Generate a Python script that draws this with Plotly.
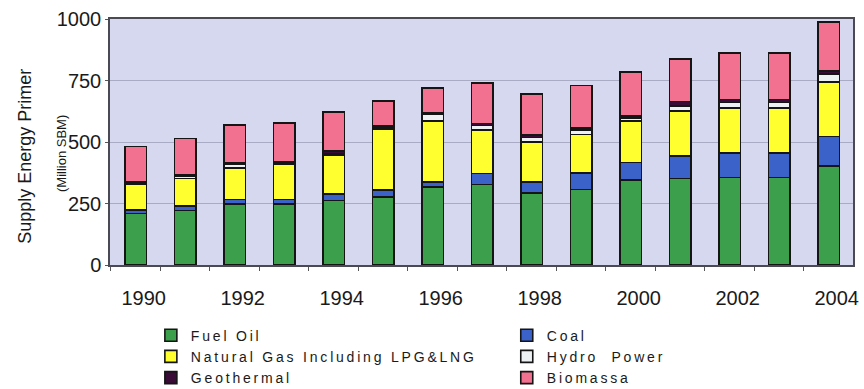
import plotly.graph_objects as go

# Primary energy supply by source, 1990-2004 (million SBM)
years = [1990, 1991, 1992, 1993, 1994, 1995, 1996, 1997, 1998, 1999, 2000, 2001, 2002, 2003, 2004]
fuel_oil = [210, 222, 247, 247, 263, 277, 317, 327, 293, 307, 345, 351, 355, 356, 403]
coal = [14, 17, 19, 19, 25, 27, 21, 45, 45, 67, 71, 92, 100, 99, 120]
natural_gas = [105, 112, 128, 142, 158, 250, 247, 178, 162, 156, 169, 183, 183, 183, 220]
hydro_power = [4, 8, 15, 4, 6, 4, 28, 17, 18, 18, 12, 20, 22, 22, 33]
geothermal = [7, 6, 6, 7, 12, 8, 5, 8, 10, 9, 8, 18, 13, 13, 12]
biomassa = [142, 149, 153, 158, 158, 100, 101, 164, 168, 173, 179, 174, 188, 188, 199]

y_ticks = [0, 250, 500, 750, 1000]
x_ticks = [1990, 1992, 1994, 1996, 1998, 2000, 2002, 2004]

# (name, values, colour, legend column) in stacking order, bottom to top
series = [
    ("Fuel Oil", fuel_oil, "#3c9f4b", "legend"),
    ("Coal", coal, "#3a62c8", "legend2"),
    ("Natural Gas Including LPG&LNG", natural_gas, "#ffff30", "legend"),
    ("Hydro  Power", hydro_power, "#eef1f4", "legend2"),
    ("Geothermal", geothermal, "#3a0b36", "legend"),
    ("Biomassa", biomassa, "#f27090", "legend2"),
]

FONT = "Liberation Sans, Arial, sans-serif"

fig = go.Figure()
for name, vals, color, leg in series:
    fig.add_trace(go.Bar(
        x=years, y=vals, legend=leg,
        name=f'<span style="letter-spacing:2.8px">{name}</span>',
        marker=dict(color=color, line=dict(color="#151515", width=1.6)),
    ))

legend_style = dict(
    orientation="v", xanchor="left", yanchor="top",
    font=dict(size=14, family=FONT, color="#1a1a1a"),
    bgcolor="rgba(0,0,0,0)", traceorder="normal",
    itemclick=False, itemdoubleclick=False,
)

fig.update_layout(
    width=864, height=389,
    margin=dict(l=110, r=11, t=19, b=124, autoexpand=False),
    barmode="stack",
    bargap=0.56,
    paper_bgcolor="white",
    plot_bgcolor="#d6d8ef",
    font=dict(family=FONT, color="#1a1a1a"),
    showlegend=True,
    legend=dict(x=0.055, y=-0.222, **legend_style),
    legend2=dict(x=0.534, y=-0.222, **legend_style),
)

fig.update_xaxes(
    range=[1989.48, 2004.49],
    tickmode="array", tickvals=x_ticks, ticktext=[str(v) for v in x_ticks],
    ticks="", tickfont=dict(size=20, family=FONT, color="#1a1a1a"),
    ticklabelshift=8, ticklabelstandoff=14,
    minor=dict(ticks="outside", ticklen=4, tickcolor="#555555",
               tickmode="linear", tick0=1989.5, dtick=1),
    showgrid=False, zeroline=False,
    showline=True, linecolor="#4a4a55", linewidth=1.5, mirror=True,
)

fig.update_yaxes(
    range=[0, 1000],
    tickmode="array", tickvals=y_ticks,
    ticks="outside", ticklen=3, tickcolor="#555555",
    tickfont=dict(size=20, family=FONT, color="#1a1a1a"),
    showgrid=True, gridcolor="#a9aac4", gridwidth=1,
    zeroline=False,
    showline=True, linecolor="#4a4a55", linewidth=1.5, mirror=True,
)

# Two-line axis title: main label and unit in a smaller size
fig.add_annotation(
    text="Supply Energy Primer", textangle=-90,
    xref="paper", yref="paper", x=-0.1144, y=0.44,
    xanchor="center", yanchor="middle", showarrow=False,
    font=dict(size=18, family=FONT, color="#1a1a1a"),
)
fig.add_annotation(
    text="(Million SBM)", textangle=-90,
    xref="paper", yref="paper", x=-0.066, y=0.455,
    xanchor="center", yanchor="middle", showarrow=False,
    font=dict(size=13, family=FONT, color="#1a1a1a"),
)

fig.write_html("out.html")
